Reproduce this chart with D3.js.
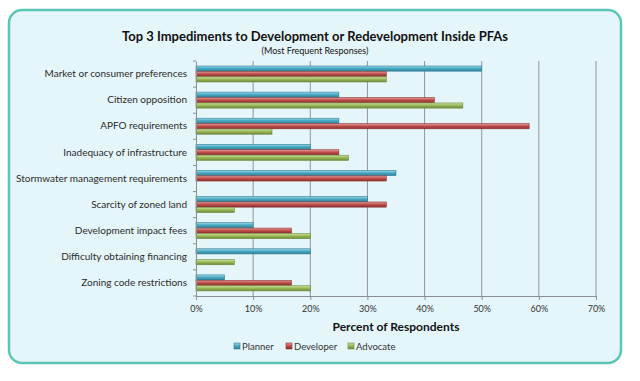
<!DOCTYPE html>
<html><head><meta charset="utf-8">
<script src="https://cdn.jsdelivr.net/npm/d3@7"></script>
<style>body{margin:0;background:#fff;}svg{display:block;font-family:Lato,"Open Sans",sans-serif;}</style>
</head><body>
<svg id="c" width="640" height="381"></svg>
<script>
const categories = ["Market or consumer preferences","Citizen opposition","APFO requirements","Inadequacy of infrastructure","Stormwater management requirements","Scarcity of zoned land","Development impact fees","Difficulty obtaining financing","Zoning code restrictions"];
const seriesNames = ["Planner","Developer","Advocate"];
const planner   = [50, 25, 25, 20, 35, 30, 10, 20, 5];
const developer = [33.3, 41.7, 58.3, 25, 33.3, 33.3, 16.7, 0, 16.7];
const advocate  = [33.3, 46.7, 13.3, 26.7, 0, 6.7, 20, 6.7, 20];
const xTicks = [0,10,20,30,40,50,60,70];
const colors = ["#4bacc6","#c0504d","#9bbb59"];
const darks = ["#2d7f96","#8c2f2d","#6f8a39"];
const lights = ["#9fd8e8","#e8a3a1","#cfe3a6"];

const svg = d3.select("#c");
const defs = svg.append("defs");
colors.forEach((c,i)=>{
  const g = defs.append("linearGradient").attr("id","g"+i).attr("x1",0).attr("x2",0).attr("y1",0).attr("y2",1);
  g.append("stop").attr("offset","0%").attr("stop-color",lights[i]);
  g.append("stop").attr("offset","45%").attr("stop-color",c);
  g.append("stop").attr("offset","100%").attr("stop-color",darks[i]);
});

svg.append("rect").attr("x",9).attr("y",10).attr("width",612).attr("height",353).attr("rx",13)
  .attr("fill","#e5f6fb").attr("stroke","#5cc6b6").attr("stroke-width",2.5);

svg.append("text").attr("x",315).attr("y",41).attr("text-anchor","middle").attr("font-size",13).attr("font-weight","bold").attr("fill","#111")
  .text("Top 3 Impediments to Development or Redevelopment Inside PFAs");
svg.append("text").attr("x",315).attr("y",54).attr("text-anchor","middle").attr("font-size",9).attr("fill","#111")
  .text("(Most Frequent Responses)");

const x = d3.scaleLinear().domain([0,70]).range([196,596]);
const y = d3.scaleBand().domain(categories).range([61,296]);
const inner = d3.scaleBand().domain(seriesNames).range([0,16]).paddingInner(0.05);
const yOff = 5;

// grid
svg.append("g").selectAll("line").data(xTicks.slice(1)).join("line")
  .attr("x1",d=>x(d)).attr("x2",d=>x(d)).attr("y1",61).attr("y2",296)
  .attr("stroke","#909598").attr("stroke-width",1);

const data = [planner, developer, advocate];
categories.forEach((cat,ci)=>{
  seriesNames.forEach((s,si)=>{
    const v = data[si][ci];
    if(v<=0) return;
    svg.append("rect").attr("x",x(0)).attr("y",y(cat)+yOff+inner(s))
      .attr("width",x(v)-x(0)).attr("height",inner.bandwidth())
      .attr("fill","url(#g"+si+")").attr("stroke",darks[si]).attr("stroke-width",0.6);
  });
});

// y axis
const ya = svg.append("g").attr("transform","translate(196,0)").call(d3.axisLeft(y).tickSize(0).tickPadding(9));
ya.select(".domain").attr("stroke","#8a8f92");
ya.selectAll("text").attr("font-size",10).attr("fill","#2a2a2a").attr("font-family","Lato,'Open Sans',sans-serif");
// minor ticks between categories
svg.append("g").selectAll("line").data(d3.range(categories.length+1)).join("line")
  .attr("x1",193).attr("x2",196).attr("y1",i=>61+i*y.step()).attr("y2",i=>61+i*y.step()).attr("stroke","#8a8f92");

// x axis
const xa = svg.append("g").attr("transform","translate(0,296)").call(d3.axisBottom(x).tickValues(xTicks).tickFormat(d=>d+"%").tickSize(4).tickPadding(6));
xa.select(".domain").attr("stroke","#8a8f92");
xa.selectAll("line").attr("stroke","#8a8f92");
xa.selectAll("text").attr("font-size",9).attr("fill","#333").attr("font-family","Lato,'Open Sans',sans-serif");

svg.append("text").attr("x",396).attr("y",331).attr("text-anchor","middle").attr("font-size",12).attr("font-weight","bold").attr("fill","#111")
  .text("Percent of Respondents");

// legend
const lx = [234, 286, 348];
seriesNames.forEach((s,i)=>{
  svg.append("rect").attr("x",lx[i]).attr("y",343).attr("width",6).attr("height",6).attr("fill","url(#g"+i+")").attr("stroke",darks[i]).attr("stroke-width",0.6);
  svg.append("text").attr("x",lx[i]+8).attr("y",349.5).attr("font-size",9.5).attr("fill","#333").text(s);
});
</script>
</body></html>
